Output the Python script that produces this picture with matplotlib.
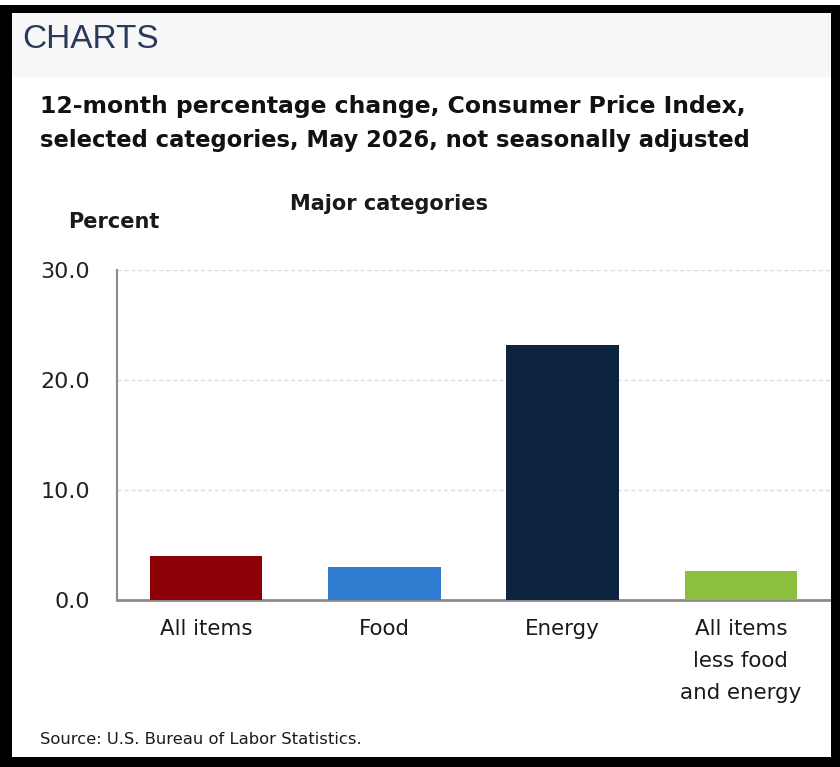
import matplotlib.pyplot as plt
from matplotlib.patches import Rectangle

categories = ['All items', 'Food', 'Energy', 'All items\nless food\nand energy']
values = [4.0, 3.0, 23.2, 2.6]
colors = ['#8e0008', '#2f7bd0', '#0d2440', '#8dbf3f']
yticks = [0.0, 10.0, 20.0, 30.0]

W, H = 840, 767
fig = plt.figure(figsize=(W / 100, H / 100), dpi=100)
fig.patch.set_facecolor('white')

def fx(px):
    return px / W

def fy(py):
    return 1 - py / H

# header band and frame
fig.patches.append(Rectangle((fx(12), fy(77)), fx(819), 64 / H, transform=fig.transFigure,
                             facecolor='#f7f7f7', edgecolor='none', zorder=0))
for x0, y0, w, h in [(0, 5, 12, 762), (0, 5, 840, 8), (831, 5, 9, 762), (0, 757, 840, 10)]:
    fig.patches.append(Rectangle((fx(x0), fy(y0 + h)), w / W, h / H, transform=fig.transFigure,
                                 facecolor='black', edgecolor='none', zorder=5))

fig.text(fx(22), fy(40), 'CHARTS', fontsize=24, color='#2b3a5c',
         family='Liberation Sans', va='center', ha='left')
fig.text(fx(40), fy(107), '12-month percentage change, Consumer Price Index,',
         fontsize=16.9, fontweight='bold', family='DejaVu Sans', va='center', color='#111111')
fig.text(fx(40), fy(141), 'selected categories, May 2026, not seasonally adjusted',
         fontsize=16.3, fontweight='bold', family='DejaVu Sans', va='center', color='#111111')
fig.text(fx(389), fy(204), 'Major categories', fontsize=15, fontweight='bold',
         family='DejaVu Sans', ha='center', va='center', color='#1a1a1a')
fig.text(fx(68), fy(222), 'Percent', fontsize=15, fontweight='bold',
         family='DejaVu Sans', ha='left', va='center', color='#1a1a1a')
fig.text(fx(40), fy(740), 'Source: U.S. Bureau of Labor Statistics.', fontsize=11.8,
         family='DejaVu Sans', ha='left', va='center', color='#1a1a1a')

ax = fig.add_axes([fx(117), fy(600), fx(830) - fx(117), fy(270) - fy(600)])
x = list(range(len(categories)))
ax.bar(x, values, width=0.63, color=colors, zorder=3)
ax.set_xlim(-0.5, 3.5)
ax.set_ylim(0, 30)
ax.set_yticks(yticks)
ax.set_yticklabels(['%.1f' % v for v in yticks], family='DejaVu Sans', fontsize=16, color='#222222')
ax.set_xticks(x)
ax.set_xticklabels(categories, family='DejaVu Sans', fontsize=15.4, color='#1a1a1a', linespacing=1.73)
ax.tick_params(axis='y', length=0, pad=19.5)
ax.tick_params(axis='x', length=0, pad=14)
for lab in ax.get_xticklabels():
    lab.set_verticalalignment('top')
ax.grid(axis='y', color='#dcdcdc', linestyle=(0, (3, 2)), linewidth=1, zorder=0)
for s in ['top', 'right']:
    ax.spines[s].set_visible(False)
ax.spines['left'].set_color('#8c8c8c')
ax.spines['bottom'].set_color('#8c8c8c')
ax.spines['left'].set_linewidth(1.5)
ax.spines['bottom'].set_linewidth(2)

fig.savefig('out.png', dpi=100)
